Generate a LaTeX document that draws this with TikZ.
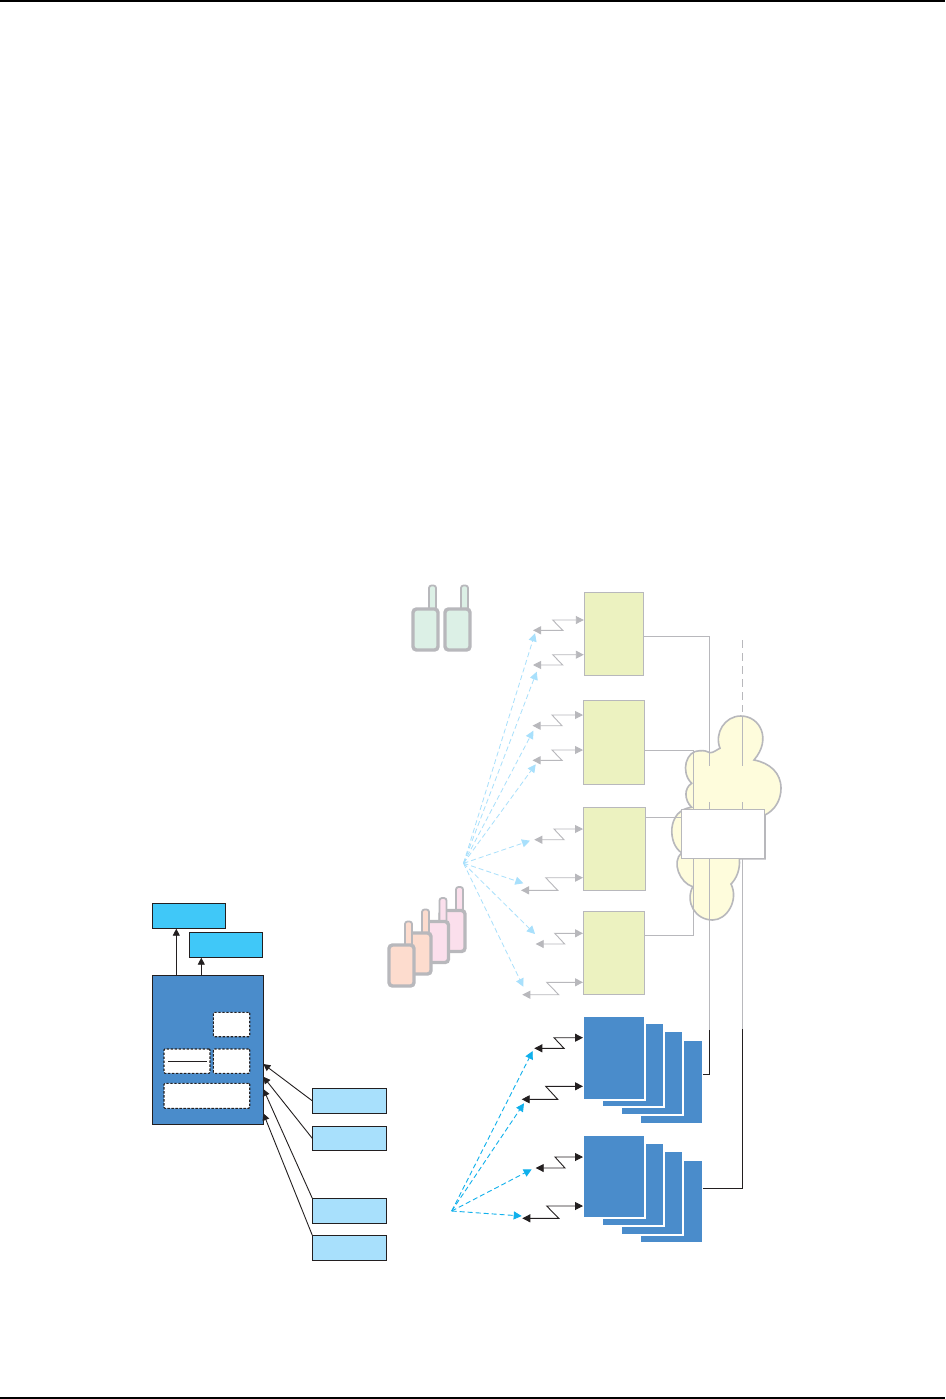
\documentclass[tikz,border=0pt]{standalone}
\usetikzlibrary{arrows.meta}
\definecolor{grayl}{HTML}{B8B8BC}
\definecolor{olive}{HTML}{ECF2C0}
\definecolor{cloudy}{HTML}{FEFCDC}
\definecolor{bluem}{HTML}{4A8CCB}
\definecolor{cyanb}{HTML}{40C8F8}
\definecolor{blueL}{HTML}{A8E0FC}
\definecolor{dashL}{HTML}{A8E0FC}
\definecolor{dashB}{HTML}{10B0EC}
\definecolor{ink}{HTML}{231F20}
\definecolor{rgreen}{HTML}{DCF0E6}
\definecolor{rpeach}{HTML}{FDDCCE}
\definecolor{rpink}{HTML}{FBDFEC}
\tikzset{x=1pt,y=-1pt,
  every node/.style={outer sep=0pt},
  greenbox/.style={draw=grayl,fill=olive,line width=1pt,rectangle,inner sep=0pt,anchor=north west},
  stackbox/.style={fill=bluem,rectangle,inner sep=0pt,anchor=north west,draw=white,line width=1.6pt},
  cyanbox/.style={draw=ink,fill=cyanb,line width=1pt,rectangle,inner sep=0pt,anchor=north west},
  lightbox/.style={draw=ink,fill=blueL,line width=1pt,rectangle,inner sep=0pt,anchor=north west},
  dashbox/.style={draw=ink,fill=white,dash pattern=on 2.4pt off 1.6pt,line width=1.1pt,rectangle,rounded corners=1pt,inner sep=0pt,anchor=north west},
  wirep/.style={draw=grayl,line width=1pt},
  wired/.style={draw=ink,line width=1pt},
  arrg/.style={draw=grayl,line width=.9pt,{Triangle[length=8pt,width=8pt]}-{Triangle[length=8pt,width=8pt]}},
  arrk/.style={draw=ink,line width=.9pt,{Triangle[length=8pt,width=8pt]}-{Triangle[length=8pt,width=8pt]}},
  dashl/.style={draw=dashL,line width=.8pt,dash pattern=on 5pt off 3pt,-{Triangle[length=8pt,width=8pt]}},
  dashb/.style={draw=dashB,line width=.9pt,dash pattern=on 5pt off 3pt,-{Triangle[length=8pt,width=8pt]}},
  solidk/.style={draw=ink,line width=.9pt,-{Triangle[length=7pt,width=7pt]}},
  radio/.style={draw=grayl,line width=3.4pt,rounded corners=3.5pt}}
\newcommand{\radiounit}[3]{%
  \draw[draw=grayl,line width=1.8pt,rounded corners=2.5pt,fill=#3] (#1+16,#2-23.5) rectangle (#1+23,#2+2);
  \draw[radio,fill=#3] (#1,#2) rectangle (#1+25,#2+41);}
\newcommand{\zig}[7]{\draw[#1] (#2,#3) -- (#4,#3) -- (#4-#7,#5) -- (#6,#5);}
\begin{document}
\begin{tikzpicture}
\useasboundingbox (0,0) rectangle (945,1399);
\fill[white] (0,0) rectangle (945,1399);
\coordinate (rtl) at (0,1.1); \coordinate (rtr) at (945,1.1);
\coordinate (rbl) at (0,1398); \coordinate (rbr) at (945,1398);
\draw[black,line width=2.3pt] (rtl) -- (rtr);
\draw[black,line width=2.2pt] (rbl) -- (rbr);

% cloud
\draw[wirep,line width=1.6pt,fill=cloudy]
  (710,752.7) .. controls (713,753) and (717,749.5) .. (720,748.3)
  .. controls (714,733) and (725,716) .. (740.7,716)
  .. controls (760,716) and (772,739) .. (754,760)
  .. controls (770,763) and (781,773) .. (781,788.3)
  .. controls (781,800) and (775,810) .. (765,815)
  -- (765,858.7) -- (739.3,858.7)
  .. controls (740.5,870) and (736,879) .. (731,884)
  .. controls (739,900) and (727,920) .. (712.7,920)
  .. controls (695,920) and (685,902) .. (692.7,886.7)
  .. controls (680,883) and (671,862) .. (681.7,852.7)
  .. controls (668,845) and (666,810) .. (691.7,807.3)
  .. controls (684,800) and (684,788) .. (691.7,783.3)
  .. controls (680,772) and (686,750) .. (700,750.7)
  .. controls (704,750.5) and (707,751) .. (710,752.7) -- cycle;

% green boxes
\node[greenbox,minimum width=59.4pt,minimum height=83pt] (g1) at (584.3,592.3) {};
\node[greenbox,minimum width=61.4pt,minimum height=84pt] (g2) at (583.3,700.3) {};
\node[greenbox,minimum width=62.4pt,minimum height=83pt] (g3) at (583.3,807.3) {};
\node[greenbox,minimum width=61.4pt,minimum height=83pt] (g4) at (583.3,911.3) {};

% wires
\coordinate (j1) at (709.5,636.3); \coordinate (j2) at (693.5,750.3); \coordinate (j3) at (693.5,935);
\coordinate (j1a) at (709.5,766); \coordinate (j1b) at (709.5,802.3); \coordinate (j1c) at (709.5,1030);
\coordinate (p1) at (742.5,640); \coordinate (p2) at (742.5,712); \coordinate (p3) at (742.5,716);
\coordinate (p4) at (742.5,766); \coordinate (p5) at (742.5,802.3); \coordinate (p6) at (742.5,1029);
\coordinate (j4) at (681.7,817.3);
\draw[wirep] (g1.north east |- j1) -- (j1) -- (j1a);
\draw[wirep] (j1b) -- (j1c);
\draw[wirep] (g2.north east |- j2) -- (j2) -- (j3) -- (g4.north east |- j3);
\draw[wirep] (g3.north east |- j4) -- (j4);
\draw[wirep,dash pattern=on 8pt off 5pt] (p1) -- (p2);
\draw[wirep] (p3) -- (p4);
\draw[wirep] (p5) -- (p6);

\node[draw=grayl,fill=white,line width=1pt,rectangle,inner sep=0pt,anchor=north west,minimum width=83pt,minimum height=49.4pt] (mux) at (681.7,809.3) {};

% radios
\radiounit{413}{609}{rgreen}
\radiounit{445}{609}{rgreen}
\radiounit{440}{910.5}{rpink}
\radiounit{423.5}{921.5}{rpink}
\radiounit{406}{933}{rpeach}
\radiounit{389}{945}{rpeach}

% grey zig-zags
\zig{arrg}{533}{630.3}{562.7}{620}{583.8}{10}
\zig{arrg}{533}{665}{562.7}{654.7}{583.8}{10}
\zig{arrg}{532.5}{725.7}{562}{715}{583}{10}
\zig{arrg}{532.5}{760.3}{562}{750}{583}{10}
\zig{arrg}{534.3}{839.7}{564}{829}{583}{10}
\zig{arrg}{521}{890.3}{557.7}{877.7}{583}{12}
\zig{arrg}{535.7}{944}{564.7}{933.3}{583}{10}
\zig{arrg}{522.3}{994.7}{558.7}{982.3}{583}{12}

% dashed fan, light
\coordinate (f1) at (463.5,863.3);
\coordinate (e1) at (535,633.3); \coordinate (e2) at (536.7,671.7);
\coordinate (e3) at (533.3,730.7); \coordinate (e4) at (535.7,764.3);
\coordinate (e5) at (530,840.7); \coordinate (e6) at (523.3,883.3);
\coordinate (e7) at (535,934); \coordinate (e8) at (523.3,986.7);
\foreach \e in {e1,e2,e3,e4,e5,e6,e7,e8}{\draw[dashl] (f1) -- (\e);}

% blue stacks
\node[stackbox,minimum width=62.6pt,minimum height=83.6pt] (s14) at (640.2,1040.2) {};
\node[stackbox,minimum width=61.6pt,minimum height=83.6pt] (s13) at (621.2,1031.2) {};
\node[stackbox,minimum width=61.6pt,minimum height=83.6pt] (s12) at (602.2,1023.2) {};
\node[stackbox,minimum width=61.6pt,minimum height=83.6pt] (s11) at (583.2,1016.2) {};
\node[stackbox,minimum width=62.6pt,minimum height=82.6pt] (s24) at (640.2,1160.2) {};
\node[stackbox,minimum width=61.6pt,minimum height=83.6pt] (s23) at (621.2,1151.2) {};
\node[stackbox,minimum width=61.6pt,minimum height=82.6pt] (s22) at (602.2,1143.2) {};
\node[stackbox,minimum width=61.6pt,minimum height=82.6pt] (s21) at (583.2,1135.2) {};

% black wires
\coordinate (k1) at (709.5,1074.5); \coordinate (k2) at (742.5,1188.5);
\draw[wired] (s14.east |- k1) -- (k1) -- (j1c);
\draw[wired] (s24.east |- k2) -- (k2) -- (p6);

% black zig-zags
\zig{arrk}{534.3}{1048.3}{564}{1037.7}{583}{10}
\zig{arrk}{521.7}{1099.3}{557.7}{1086.3}{583}{12}
\zig{arrk}{535.7}{1168}{565}{1157}{583}{10}
\zig{arrk}{522.3}{1218.3}{558.7}{1206}{583}{12}

% dashed fan, dark
\coordinate (f2) at (451.7,1211);
\coordinate (d1) at (532.7,1051); \coordinate (d2) at (524,1103.3);
\coordinate (d3) at (531.7,1169.3); \coordinate (d4) at (521.7,1216);
\foreach \e in {d1,d2,d3,d4}{\draw[dashb] (f2) -- (\e);}

% left block
\node[cyanbox,minimum width=73.4pt,minimum height=25.4pt] (c1) at (152.3,903.3) {};
\node[cyanbox,minimum width=73.4pt,minimum height=25.4pt] (c2) at (189.3,932.3) {};
\node[draw=ink,fill=bluem,line width=1pt,rectangle,inner sep=0pt,anchor=north west,minimum width=111.4pt,minimum height=149.4pt] (m) at (152.3,975.3) {};
\node[dashbox,minimum width=36.4pt,minimum height=24.4pt] (d1b) at (213.3,1012.3) {};
\node[dashbox,minimum width=36.4pt,minimum height=24.3pt] (d2b) at (213.3,1049) {};
\node[dashbox,minimum width=46pt,minimum height=24.3pt] (d3b) at (164,1049) {};
\node[dashbox,minimum width=85.7pt,minimum height=25pt] (d4b) at (164,1083.3) {};
\coordinate (ul) at (168.3,1061.3); \coordinate (ur) at (207,1061.3);
\draw[ink,line width=.9pt] (ul) -- (ur);

\coordinate (up1) at (176.3,975.3); \coordinate (up2) at (201.3,975.3);
\draw[solidk] (up1) -- (up1 |- c1.south);
\draw[solidk] (up2) -- (up2 |- c2.south);

\node[lightbox,minimum width=74.4pt,minimum height=25pt] (l1) at (312.3,1088.3) {};
\node[lightbox,minimum width=74.4pt,minimum height=24pt] (l2) at (312.3,1126.3) {};
\node[lightbox,minimum width=74.4pt,minimum height=25pt] (l3) at (312.3,1198.3) {};
\node[lightbox,minimum width=74.4pt,minimum height=25pt] (l4) at (312.3,1235.3) {};
\coordinate (t1) at (263.3,1064); \coordinate (t2) at (263.3,1076.7);
\coordinate (t3) at (263.3,1089); \coordinate (t4) at (263.3,1113.3);
\draw[solidk] (l1.west) -- (t1);
\draw[solidk] (l2.west) -- (t2);
\draw[solidk] (l3.north west) -- (t3);
\draw[solidk] (l4.north west) -- (t4);
\end{tikzpicture}
\end{document}
